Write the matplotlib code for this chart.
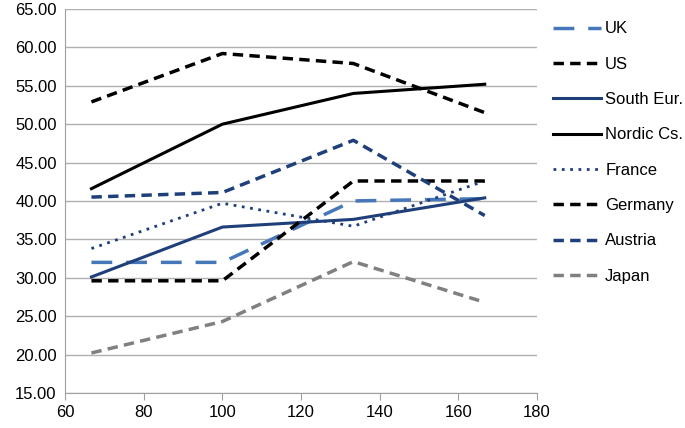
import matplotlib.pyplot as plt

# x positions and series values
x = [66.7, 100, 133.3, 166.7]

uk = [32.0, 32.0, 40.0, 40.3]
us = [52.9, 59.2, 57.9, 51.5]
south_eur = [30.1, 36.6, 37.6, 40.4]
nordic = [41.6, 50.0, 54.0, 55.2]
france = [33.8, 39.7, 36.7, 42.6]
germany = [29.6, 29.6, 42.6, 42.6]
austria = [40.5, 41.1, 47.9, 38.1]
japan = [20.2, 24.3, 32.1, 26.8]

plt.rcParams['font.family'] = ['Liberation Sans', 'DejaVu Sans']

fig = plt.figure(figsize=(6.85, 4.28), dpi=100)
ax = fig.add_axes([0.095, 0.082, 0.689, 0.897])

navy = '#1f3f7a'
lightblue = '#4677b8'
grey = '#808080'

ax.plot(x, uk, color=lightblue, linewidth=2.5, dashes=(6, 4), label='UK')
ax.plot(x, us, color='black', linewidth=2.5, dashes=(3, 1.8), label='US')
ax.plot(x, south_eur, color=navy, linewidth=2.2, label='South Eur.')
ax.plot(x, nordic, color='black', linewidth=2.2, label='Nordic Cs.')
ax.plot(x, france, color=navy, linewidth=2, dashes=(1, 2), label='France')
ax.plot(x, germany, color='black', linewidth=2.5, dashes=(3, 1.8), label='Germany')
ax.plot(x, austria, color=navy, linewidth=2.5, dashes=(3, 1.8), label='Austria')
ax.plot(x, japan, color=grey, linewidth=2.5, dashes=(3, 1.8), label='Japan')

ax.set_xlim(60, 180)
ax.set_ylim(15, 65)
ax.set_xticks(range(60, 181, 20))
ax.set_yticks(range(15, 66, 5))
ax.set_yticklabels([f'{v:.2f}' for v in range(15, 66, 5)])

ax.grid(axis='y', color='#b0b0b0', linewidth=1)
ax.set_axisbelow(True)
for side in ['top', 'right']:
    ax.spines[side].set_visible(False)
for side in ['left', 'bottom']:
    ax.spines[side].set_color('#a0a0a0')
ax.tick_params(axis='y', length=0, labelsize=12, pad=6)
ax.tick_params(axis='x', length=5, color='#a0a0a0', labelsize=12, pad=4)

fig.legend(loc='upper left', bbox_to_anchor=(0.785, 0.985), frameon=False,
           fontsize=12, handlelength=2.9, handletextpad=0.25, labelspacing=1.22)

fig.savefig('out.png', dpi=100)
